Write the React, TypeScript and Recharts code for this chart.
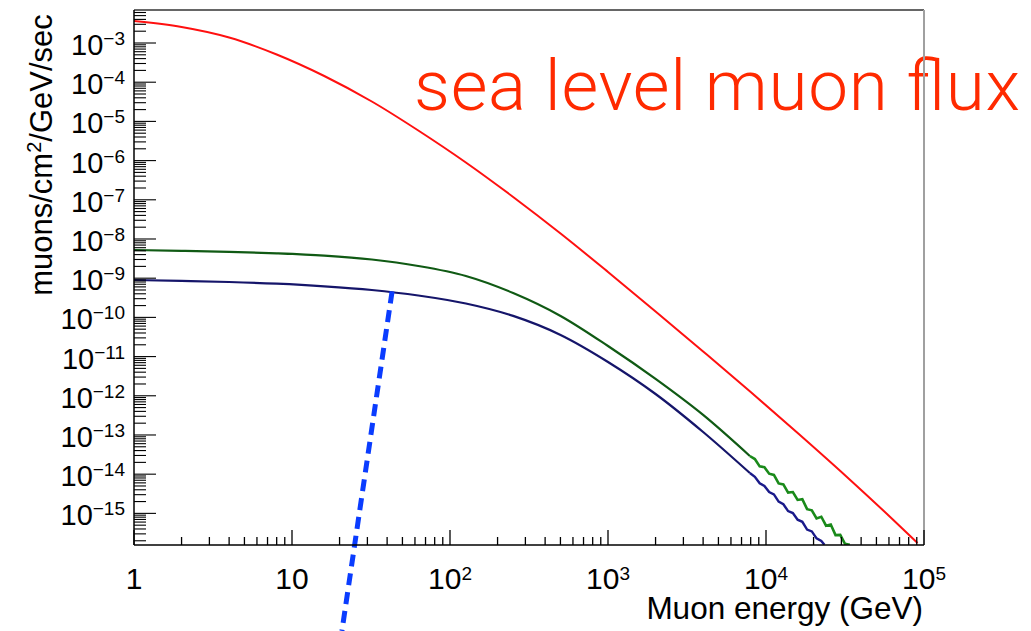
import { Customized, Line, LineChart, ReferenceLine, XAxis, YAxis } from "recharts"

// muon energy (GeV) samples
const redE = [1, 2, 4, 8, 16, 32, 63, 126, 251, 501, 1000, 2000, 4000, 8000, 16000, 32000, 63000, 91000]
const redFlux = [3.64e-3, 2.56e-3, 1.38e-3, 5.09e-4, 1.44e-4, 3.22e-5, 5.86e-6, 8.95e-7, 1.18e-7, 1.38e-8, 1.44e-9, 1.42e-10, 1.35e-11, 1.25e-12, 1.09e-13, 9.0e-15, 7.2e-16, 1.76e-16]

const curveE = [1, 2, 4, 8, 16, 32, 63, 126, 251, 501, 1000, 2000, 4000, 7900]
const greenFlux = [5.24e-9, 5.0e-9, 4.71e-9, 4.31e-9, 3.77e-9, 3.0e-9, 2.05e-9, 1.14e-9, 4.19e-10, 1.09e-10, 1.86e-11, 2.69e-12, 3.24e-13, 2.91e-14]
const blueFlux = [9.0e-10, 8.53e-10, 8.0e-10, 7.24e-10, 6.21e-10, 5.0e-10, 3.62e-10, 2.26e-10, 1.09e-10, 3.56e-11, 7.28e-12, 1.11e-12, 1.19e-13, 1.07e-14]

// noisy high-energy tails (low statistics)
const greenTailE = [7900, 8500, 9120, 9770, 10470, 11220, 12020, 12880, 13800, 14790, 15850, 16980, 18200, 19500, 20890, 22390, 23990, 25700, 27540, 29510, 31620, 33880]
const greenTailFlux = [2.91e-14, 2.43e-14, 1.58e-14, 1.51e-14, 1.03e-14, 9.6e-15, 5.8e-15, 5.5e-15, 3.4e-15, 3.5e-15, 2.2e-15, 2.3e-15, 1.28e-15, 1.2e-15, 7.4e-16, 8.2e-16, 4.85e-16, 5.2e-16, 2.8e-16, 2.83e-16, 1.67e-16, 1.57e-16]
const blueTailE = [7900, 8500, 9120, 9770, 10470, 11220, 12020, 12880, 13800, 14790, 15850, 16980, 18200, 19500, 20890, 22390, 23440]
const blueTailFlux = [1.07e-14, 8.6e-15, 5.85e-15, 5.0e-15, 3.49e-15, 3.06e-15, 1.99e-15, 1.71e-15, 1.14e-15, 1.02e-15, 6.9e-16, 6.1e-16, 3.86e-16, 3.47e-16, 2.31e-16, 1.98e-16, 1.58e-16]

const xDecades = [0, 1, 2, 3, 4, 5]
const yDecades = [-16, -15, -14, -13, -12, -11, -10, -9, -8, -7, -6, -5, -4, -3]
const xDomain = [1, 1e5]
const yDomain = [1.56e-16, 6.95e-3]

// dashed cut line, energy/flux of its two ends
const cutLine = [
  { x: 43, y: 4.6e-10 },
  { x: 20.7, y: 1e-18 },
]

const FONT = "'Liberation Sans', Arial, Helvetica, sans-serif"

const toRows = (xs: number[], ys: number[]) => ys.map((y, i) => ({ e: xs[i], f: y }))

// decade + 2..9 minor ticks inside the domain
function logTicks(decades: number[], lo: number, hi: number) {
  const out: number[] = []
  decades.forEach((d) => {
    for (let m = 1; m <= 9; m++) {
      const v = m * Math.pow(10, d)
      if (v >= lo * 0.999 && v <= hi * 1.001) out.push(v)
    }
  })
  return out
}

const isDecade = (v: number) => {
  const lg = Math.log10(v)
  return Math.abs(lg - Math.round(lg)) < 1e-6
}

function XTick(props: any) {
  const { x, y, payload } = props
  const v = payload.value
  const major = isDecade(v)
  const p = Math.round(Math.log10(v))
  return (
    <g>
      <line x1={x} x2={x} y1={y} y2={y - (major ? 15 : 8)} stroke="#000" strokeWidth={1.3} />
      {major && (
        <text x={x} y={y + 44} textAnchor="middle" fontSize={30} fontFamily={FONT} fill="#000">
          {p === 0 ? "1" : "10"}
          {p > 1 && (
            <tspan dy={-9} fontSize={19}>
              {p}
            </tspan>
          )}
        </text>
      )}
    </g>
  )
}

function YTick(props: any) {
  const { x, y, payload } = props
  const v = payload.value
  const major = isDecade(v)
  const p = Math.round(Math.log10(v))
  return (
    <g>
      <line x1={x} x2={x + (major ? 22 : 12)} y1={y} y2={y} stroke="#000" strokeWidth={1.1} />
      {major && p >= -15 && (
        <text x={x - 9} y={y + 12} textAnchor="end" fontSize={29} fontFamily={FONT} fill="#000">
          10
          <tspan dy={-10} fontSize={19}>
            {"\u2212" + Math.abs(p)}
          </tspan>
        </text>
      )}
    </g>
  )
}

function Titles() {
  return (
    <g fontFamily={FONT}>
      <text
        x={414}
        y={110}
        fontSize={71}
        fontWeight={300}
        fontFamily="Roboto, 'Liberation Sans', sans-serif"
        textLength={606}
        lengthAdjust="spacing"
        fill="#ff2a00"
      >
        sea level muon flux
      </text>
      <text x={923} y={619} fontSize={31.5} textAnchor="end" fill="#000">
        Muon energy (GeV)
      </text>
      <text x={52} y={155} fontSize={31} textAnchor="middle" fill="#000" transform="rotate(-90 52 155)">
        muons/cm
        <tspan dy={-11} fontSize={20}>
          2
        </tspan>
        <tspan dy={11}>/GeV/sec</tspan>
      </text>
    </g>
  )
}

export default function App() {
  return (
    <div style={{ position: "absolute", left: 0, top: 0, background: "#fff" }}>
      <LineChart width={1031} height={631} margin={{ top: 10, right: 107, bottom: 0, left: 0 }}>
        <XAxis
          dataKey="e"
          type="number"
          scale="log"
          domain={xDomain}
          allowDataOverflow
          ticks={logTicks(xDecades, xDomain[0], xDomain[1])}
          interval={0}
          tickSize={0}
          tickMargin={0}
          tickLine={false}
          tick={XTick}
          height={86}
          axisLine={{ stroke: "#000", strokeWidth: 1.5 }}
        />
        <YAxis
          dataKey="f"
          type="number"
          scale="log"
          domain={yDomain}
          allowDataOverflow
          ticks={logTicks(yDecades, yDomain[0], yDomain[1])}
          interval={0}
          tickSize={0}
          tickMargin={0}
          tickLine={false}
          tick={YTick}
          width={134}
          axisLine={{ stroke: "#000", strokeWidth: 1.5 }}
        />
        <ReferenceLine y={yDomain[1]} stroke="#333" strokeWidth={1.5} />
        <ReferenceLine x={xDomain[1]} stroke="#a0a0a0" strokeWidth={2} />
        <Line data={toRows(redE, redFlux)} dataKey="f" type="monotone" stroke="#ff1010" strokeWidth={2} dot={false} isAnimationActive={false} />
        <Line data={toRows(curveE, greenFlux)} dataKey="f" type="monotone" stroke="#105a14" strokeWidth={2.2} dot={false} isAnimationActive={false} />
        <Line data={toRows(greenTailE, greenTailFlux)} dataKey="f" type="linear" stroke="#1a8a1a" strokeWidth={2.6} dot={false} isAnimationActive={false} />
        <Line data={toRows(curveE, blueFlux)} dataKey="f" type="monotone" stroke="#15156a" strokeWidth={2.2} dot={false} isAnimationActive={false} />
        <Line data={toRows(blueTailE, blueTailFlux)} dataKey="f" type="linear" stroke="#1a1a8a" strokeWidth={2.4} dot={false} isAnimationActive={false} />
        <ReferenceLine segment={cutLine} ifOverflow="visible" stroke="#0a3cff" strokeWidth={5} strokeDasharray="12 7" />
        <Customized component={<Titles />} />
      </LineChart>
    </div>
  )
}
